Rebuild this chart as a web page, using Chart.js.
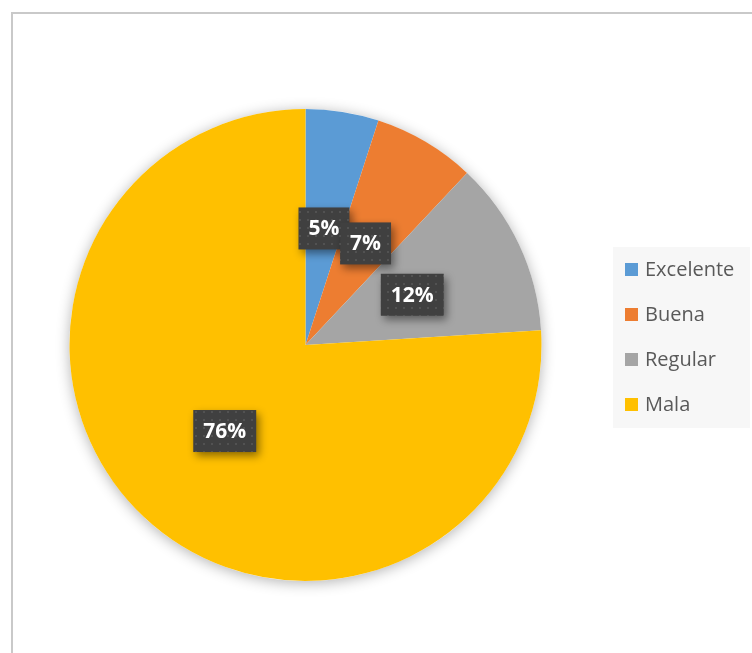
<!DOCTYPE html>
<html>
<head>
<meta charset="utf-8">
<script src="https://cdn.jsdelivr.net/npm/chart.js@4"></script>
<style>
  html, body { margin: 0; padding: 0; background: #ffffff; }
  #wrap { position: relative; width: 752px; height: 653px; }
  canvas { display: block; }
</style>
</head>
<body>
<div id="wrap"><canvas id="c" width="752" height="653"></canvas></div>
<script>
// Opinion categories and their shares (percent)
const categories = ['Excelente', 'Buena', 'Regular', 'Mala'];
const shares = [5, 7, 12, 76];
const sliceColors = ['#5B9BD5', '#ED7D31', '#A5A5A5', '#FFC000'];

// Dotted dark fill used behind the value labels
function makeDotPattern(ctx) {
  const p = document.createElement('canvas');
  p.width = 8; p.height = 8;
  const pc = p.getContext('2d');
  pc.fillStyle = '#404040';
  pc.fillRect(0, 0, 8, 8);
  pc.fillStyle = '#525252';
  pc.fillRect(3, 3, 2, 2);
  return ctx.createPattern(p, 'repeat');
}

// Frame lines along the top and left edges
const framePlugin = {
  id: 'frame',
  beforeDraw(chart) {
    const ctx = chart.ctx;
    ctx.save();
    ctx.strokeStyle = '#c9c9c9';
    ctx.lineWidth = 2;
    ctx.beginPath();
    ctx.moveTo(12, chart.height);
    ctx.lineTo(12, 13);
    ctx.lineTo(chart.width, 13);
    ctx.stroke();
    ctx.restore();
  }
};

// Soft shadow cast by the whole pie
const pieShadowPlugin = {
  id: 'pieShadow',
  beforeDatasetsDraw(chart) {
    const arc = chart.getDatasetMeta(0).data[0];
    if (!arc) return;
    const ctx = chart.ctx;
    ctx.save();
    ctx.shadowColor = 'rgba(0,0,0,0.30)';
    ctx.shadowBlur = 14;
    ctx.shadowOffsetX = 0;
    ctx.shadowOffsetY = 2;
    ctx.fillStyle = '#ffffff';
    ctx.beginPath();
    ctx.arc(arc.x, arc.y, arc.outerRadius, 0, Math.PI * 2);
    ctx.fill();
    ctx.restore();
  }
};

// Percentage labels in dark boxes at the middle of each slice
const valueLabelPlugin = {
  id: 'valueLabels',
  afterDatasetsDraw(chart) {
    const ctx = chart.ctx;
    const meta = chart.getDatasetMeta(0);
    const values = chart.data.datasets[0].data;
    const pattern = makeDotPattern(ctx);
    ctx.save();
    ctx.font = 'bold 21px "Open Sans", sans-serif';
    ctx.textAlign = 'center';
    ctx.textBaseline = 'middle';
    meta.data.forEach((arc, i) => {
      const pos = arc.getCenterPoint();
      const text = values[i] + '%';
      const w = ctx.measureText(text).width + 20;
      const h = 42;
      const x = pos.x - w / 2;
      const y = pos.y - h / 2;
      ctx.save();
      ctx.shadowColor = 'rgba(0,0,0,0.45)';
      ctx.shadowBlur = 8;
      ctx.shadowOffsetX = 3;
      ctx.shadowOffsetY = 4;
      ctx.fillStyle = pattern;
      ctx.fillRect(x, y, w, h);
      ctx.restore();
      ctx.fillStyle = '#ffffff';
      ctx.fillText(text, pos.x, pos.y + 1);
    });
    ctx.restore();
  }
};

// Legend box on the right, built from the chart's labels and colours
const sideLegendPlugin = {
  id: 'sideLegend',
  afterDraw(chart) {
    const ctx = chart.ctx;
    const labels = chart.data.labels;
    const colors = chart.data.datasets[0].backgroundColor;
    const boxX = 613, boxY = 247, boxW = 137, boxH = 181;
    const firstY = 270, step = 45;
    ctx.save();
    ctx.fillStyle = '#f7f7f7';
    ctx.fillRect(boxX, boxY, boxW, boxH);
    ctx.font = '20px "Open Sans", sans-serif';
    ctx.textAlign = 'left';
    ctx.textBaseline = 'middle';
    labels.forEach((lab, i) => {
      const cy = firstY + i * step;
      ctx.fillStyle = colors[i];
      ctx.fillRect(625, cy - 7, 13, 13);
      ctx.fillStyle = '#595959';
      ctx.fillText(lab, 645, cy);
    });
    ctx.restore();
  }
};

new Chart(document.getElementById('c'), {
  type: 'pie',
  data: {
    labels: categories,
    datasets: [{
      data: shares,
      backgroundColor: sliceColors,
      borderWidth: 0
    }]
  },
  options: {
    responsive: false,
    animation: false,
    layout: { padding: { left: 69.5, right: 210.5, top: 109, bottom: 72 } },
    plugins: {
      legend: { display: false },
      tooltip: { enabled: false }
    }
  },
  plugins: [framePlugin, pieShadowPlugin, valueLabelPlugin, sideLegendPlugin]
});
</script>
</body>
</html>
